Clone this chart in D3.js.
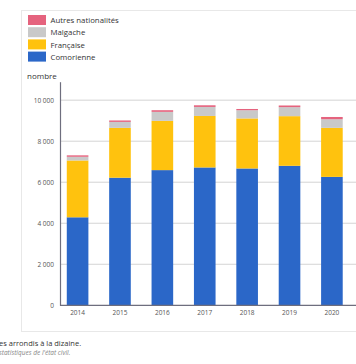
<!DOCTYPE html>
<html><head><meta charset="utf-8">
<script src="https://cdn.jsdelivr.net/npm/d3@7"></script>
<style>
html,body{margin:0;padding:0;background:#fff;overflow:hidden;}
svg{display:block;font-family:"Open Sans",sans-serif;}
</style></head>
<body><svg id="c" width="356" height="364"></svg>
<script>
const years = ["2014","2015","2016","2017","2018","2019","2020"];
const comorienne = [4290, 6220, 6590, 6720, 6670, 6800, 6260];
const francaise  = [2770, 2430, 2400, 2510, 2440, 2420, 2390];
const malgache   = [180, 290, 440, 440, 400, 440, 420];
const autres     = [70, 70, 80, 80, 60, 80, 110];
const seriesNames = ["Comorienne","Française","Malgache","Autres nationalités"];
const seriesColors = ["#2b67c8","#ffc20e","#c9c9c9","#e5637e"];
const yTicks = [0, 2000, 4000, 6000, 8000, 10000];
const yMax = 10900;

const svg = d3.select("#c");
// panel border
svg.append("rect").attr("x",21.5).attr("y",10.5).attr("width",400).attr("height",321)
  .attr("fill","none").attr("stroke","#e8e8e8").attr("stroke-width",1);

const x0 = 60, yBase = 305.3, yTop = 81.7;
const y = d3.scaleLinear().domain([0,yMax]).range([yBase, yTop]);
const x = d3.scaleBand().domain(years).range([x0, 349.5]).paddingInner(0.49).paddingOuter(0.16);

// gridlines
svg.append("g").selectAll("line").data(yTicks.filter(d=>d>0)).join("line")
  .attr("x1",x0).attr("x2",356).attr("y1",d=>y(d)).attr("y2",d=>y(d))
  .attr("stroke","#d4d4d4").attr("stroke-width",1);

// stacked data
const rows = years.map((yr,i)=>({year:yr, "Comorienne":comorienne[i], "Française":francaise[i], "Malgache":malgache[i], "Autres nationalités":autres[i]}));
const stack = d3.stack().keys(seriesNames)(rows);
svg.append("g").selectAll("g").data(stack).join("g")
  .attr("fill",(d,i)=>seriesColors[i])
  .selectAll("rect").data(d=>d).join("rect")
  .attr("x",d=>x(d.data.year)).attr("width",x.bandwidth())
  .attr("y",d=>y(d[1])).attr("height",d=>y(d[0])-y(d[1]));

// y axis
const yAxis = d3.axisLeft(y).tickValues(yTicks).tickSize(0).tickPadding(6)
  .tickFormat(d=>d3.format(",")(d).replace(/,/g," "));
const gy = svg.append("g").attr("transform",`translate(${x0},0)`).call(yAxis);
gy.select(".domain").attr("stroke","#6e6e7e").attr("stroke-width",1.2);
gy.selectAll("text").attr("fill","#555").style("font-size","6.5px").style("font-family","Open Sans");

// x axis
const xAxis = d3.axisBottom(x).tickSize(0).tickPadding(5);
const gx = svg.append("g").attr("transform",`translate(0,${yBase})`).call(xAxis);
gx.select(".domain").remove();
svg.append("line").attr("x1",x0).attr("x2",356).attr("y1",yBase).attr("y2",yBase)
  .attr("stroke","#6e6e7e").attr("stroke-width",1.2);
gx.selectAll("text").attr("fill","#555").style("font-size","6.5px").style("font-family","Open Sans");

// y title
svg.append("text").attr("x",27).attr("y",79).text("nombre")
  .attr("fill","#333").style("font-size","8px");

// legend (top to bottom: reversed)
const legendOrder = [3,2,1,0];
const lg = svg.append("g").selectAll("g").data(legendOrder).join("g")
  .attr("transform",(d,i)=>`translate(28,${15 + i*12.2})`);
lg.append("rect").attr("width",18).attr("height",10).attr("fill",d=>seriesColors[d]);
lg.append("text").attr("x",22.5).attr("y",8.2).text(d=>seriesNames[d])
  .attr("fill","#333").style("font-size","7.8px");

// footer
svg.append("text").attr("x",-1).attr("y",346).text("es arrondis à la dizaine.")
  .attr("fill","#333").style("font-size","7.5px");
svg.append("text").attr("x",-1).attr("y",355).text("statistiques de l'état civil.")
  .attr("fill","#888").style("font-size","6.5px").style("font-style","italic");
</script></body></html>
